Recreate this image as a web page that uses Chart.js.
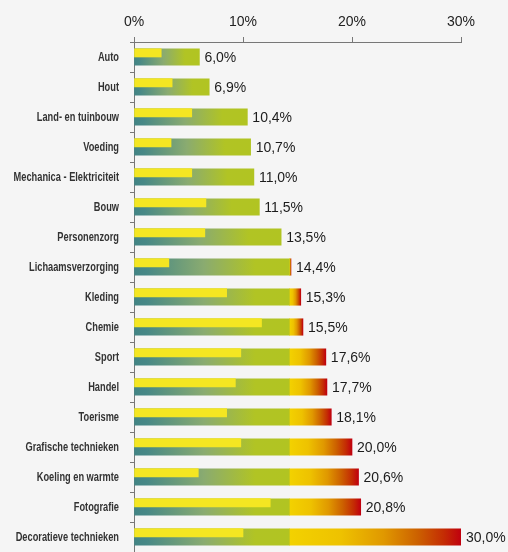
<!DOCTYPE html>
<html>
<head>
<meta charset="utf-8">
<script src="https://cdn.jsdelivr.net/npm/chart.js@4.4.1/dist/chart.umd.min.js"></script>
<style>
  html, body { margin: 0; padding: 0; background: #f5f5f5; }
  #wrap { width: 508px; height: 552px; }
</style>
</head>
<body>
<div id="wrap"><canvas id="sectorChart"></canvas></div>
<script>
const sectors = ['Auto', 'Hout', 'Land- en tuinbouw', 'Voeding', 'Mechanica - Elektriciteit', 'Bouw',
  'Personenzorg', 'Lichaamsverzorging', 'Kleding', 'Chemie', 'Sport', 'Handel', 'Toerisme',
  'Grafische technieken', 'Koeling en warmte', 'Fotografie', 'Decoratieve technieken'];
const totals = [6.0, 6.9, 10.4, 10.7, 11.0, 11.5, 13.5, 14.4, 15.3, 15.5, 17.6, 17.7, 18.1, 20.0, 20.6, 20.8, 30.0];
const innerValues = [2.5, 3.5, 5.3, 3.4, 5.3, 6.6, 6.5, 3.2, 8.5, 11.7, 9.8, 9.3, 8.5, 9.8, 5.9, 12.5, 10.0];
const splitValue = 14.25;
const axisMax = 30;
const axisStep = 10;

// part of each bar up to the split, and the part beyond it
const lowPart = totals.map(v => Math.min(v, splitValue));
const highPart = totals.map(v => v > splitValue ? +(v - splitValue).toFixed(2) : null);
const spacer = sectors.map(() => null);

const greenFill = (c) => {
  const chart = c.chart;
  if (!chart.chartArea || c.raw == null) return '#b1c422';
  const xs = chart.scales.x;
  const x0 = xs.getPixelForValue(0);
  const x1 = xs.getPixelForValue(c.raw);
  const g = chart.ctx.createLinearGradient(x0, 0, x1, 0);
  g.addColorStop(0, '#428484');
  g.addColorStop(0.08, '#478886');
  g.addColorStop(0.45, '#8aab70');
  g.addColorStop(0.78, '#b1c424');
  g.addColorStop(1, '#b1c422');
  return g;
};

const redFill = (c) => {
  const chart = c.chart;
  if (!chart.chartArea || c.raw == null) return '#f2cf00';
  const xs = chart.scales.x;
  const x0 = xs.getPixelForValue(splitValue);
  const x1 = xs.getPixelForValue(splitValue + c.raw);
  const g = chart.ctx.createLinearGradient(x0, 0, x1, 0);
  g.addColorStop(0, '#f3d200');
  g.addColorStop(0.3, '#eec200');
  g.addColorStop(0.55, '#e09800');
  g.addColorStop(0.75, '#cc6000');
  g.addColorStop(0.9, '#c42c04');
  g.addColorStop(1, '#c0000e');
  return g;
};

// value after each bar, "6,0%"
const valueLabels = {
  id: 'valueLabels',
  afterDatasetsDraw(chart) {
    const ctx = chart.ctx;
    const xs = chart.scales.x, ys = chart.scales.y;
    ctx.save();
    ctx.font = '14px "Liberation Sans", Arial, sans-serif';
    ctx.fillStyle = '#1c1c1c';
    ctx.textBaseline = 'middle';
    ctx.textAlign = 'left';
    totals.forEach((v, i) => {
      const txt = v.toFixed(1).replace('.', ',') + '%';
      ctx.fillText(txt, xs.getPixelForValue(v) + 5, ys.getPixelForValue(i) + 1);
    });
    ctx.restore();
  }
};

// sector names in a narrow face
const sectorLabels = {
  id: 'sectorLabels',
  afterDraw(chart) {
    const ctx = chart.ctx, ys = chart.scales.y;
    ctx.save();
    ctx.font = 'bold 12.5px "Liberation Sans", Arial, sans-serif';
    ctx.fillStyle = '#333';
    ctx.textAlign = 'right';
    ctx.textBaseline = 'middle';
    sectors.forEach((s, i) => {
      ctx.save();
      ctx.translate(ys.right - 15, ys.getPixelForValue(i) + 0.5);
      ctx.scale(0.74, 1);
      ctx.fillText(s, 0, 0);
      ctx.restore();
    });
    ctx.restore();
  }
};

const myChart = new Chart(document.getElementById('sectorChart'), {
  type: 'bar',
  data: {
    labels: sectors,
    datasets: [
      {
        label: 'inner',
        data: innerValues,
        stack: 'inner',
        backgroundColor: '#f4e622',
        barThickness: 8.3,
        grouped: true
      },
      {
        label: 'spacer',
        data: spacer,
        stack: 'spacer',
        backgroundColor: 'rgba(0,0,0,0)',
        barThickness: 8.3,
        grouped: true
      },
      {
        label: 'low',
        data: lowPart,
        stack: 'main',
        backgroundColor: greenFill,
        barThickness: 16.5,
        grouped: false
      },
      {
        label: 'high',
        data: highPart,
        stack: 'main',
        backgroundColor: redFill,
        barThickness: 16.5,
        grouped: false
      }
    ]
  },
  options: {
    indexAxis: 'y',
    responsive: true,
    maintainAspectRatio: false,
    animation: false,
    layout: { padding: { left: 0, right: 47, top: 0, bottom: 0 } },
    plugins: { legend: { display: false }, tooltip: { enabled: false } },
    scales: {
      x: {
        position: 'top',
        stacked: true,
        min: 0,
        max: axisMax,
        ticks: {
          stepSize: axisStep,
          callback: v => v + '%',
          font: { size: 14, family: '"Liberation Sans", Arial, sans-serif' },
          color: '#222',
          padding: 6
        },
        grid: { drawOnChartArea: false, tickLength: 5, color: '#777' },
        border: { color: '#777' },
        afterFit: s => { s.height = 42; }
      },
      y: {
        ticks: { display: false },
        grid: { drawOnChartArea: false, tickLength: 4, color: '#777', offset: true },
        border: { color: '#777' },
        afterFit: s => { s.width = 134; }
      }
    }
  },
  plugins: [valueLabels, sectorLabels]
});
</script>
</body>
</html>
